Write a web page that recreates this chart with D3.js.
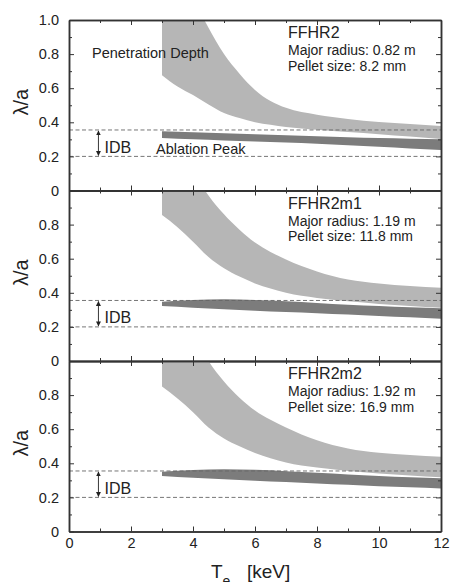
<!DOCTYPE html>
<html>
<head>
<meta charset="utf-8">
<script src="https://cdn.jsdelivr.net/npm/d3@7"></script>
<style>
  body { margin: 0; background: #fff; }
  svg { display: block; }
  text { font-family: "Liberation Sans", Arial, sans-serif; fill: #222; }
</style>
</head>
<body>
<div id="chart"></div>
<script>
  // panel labels
  const panelNames = ["FFHR2", "FFHR2m1", "FFHR2m2"]
  const majorRadius = ["0.82", "1.19", "1.92"]
  const pelletSize = ["8.2", "11.8", "16.9"]

  // penetration depth band (lambda/a), one lower/upper pair per panel
  const penTemps = [3, 3.5, 4, 4.5, 5, 5.5, 6, 6.5, 7, 8, 9, 10, 11, 12]
  const penLower = [
    [0.676, 0.61, 0.56, 0.505, 0.455, 0.425, 0.40, 0.385, 0.372, 0.356, 0.343, 0.33, 0.316, 0.302],
    [0.856, 0.785, 0.70, 0.61, 0.544, 0.495, 0.455, 0.425, 0.40, 0.37, 0.35, 0.335, 0.323, 0.313],
    [0.85, 0.78, 0.70, 0.61, 0.546, 0.50, 0.46, 0.43, 0.405, 0.375, 0.355, 0.34, 0.328, 0.318]
  ]
  const penUpper = [
    [1.45, 1.27, 1.12, 0.955, 0.80, 0.685, 0.59, 0.525, 0.485, 0.445, 0.42, 0.402, 0.39, 0.378],
    [1.6, 1.35, 1.12, 0.97, 0.86, 0.77, 0.695, 0.64, 0.595, 0.525, 0.478, 0.455, 0.44, 0.43],
    [1.65, 1.4, 1.17, 1.0, 0.88, 0.785, 0.71, 0.655, 0.61, 0.535, 0.487, 0.462, 0.448, 0.438]
  ]

  // ablation peak band
  const ablTemps = [3, 4, 5, 6, 7, 8, 9, 10, 11, 12]
  const ablLower = [
    [0.308, 0.300, 0.293, 0.287, 0.281, 0.274, 0.266, 0.257, 0.247, 0.237],
    [0.322, 0.312, 0.303, 0.295, 0.287, 0.280, 0.272, 0.264, 0.256, 0.248],
    [0.326, 0.315, 0.306, 0.298, 0.290, 0.282, 0.274, 0.266, 0.259, 0.252]
  ]
  const ablUpper = [
    [0.347, 0.342, 0.336, 0.330, 0.324, 0.318, 0.313, 0.308, 0.304, 0.300],
    [0.348, 0.358, 0.362, 0.358, 0.350, 0.340, 0.330, 0.322, 0.315, 0.310],
    [0.350, 0.360, 0.365, 0.362, 0.354, 0.344, 0.334, 0.325, 0.318, 0.312]
  ]

  const idbLimits = [0.2, 0.355]
  const idbArrowT = 0.95

  const xMajor = [0, 2, 4, 6, 8, 10, 12]
  const xMinor = [1, 3, 5, 7, 9, 11]
  const yMajor = [0, 0.2, 0.4, 0.6, 0.8, 1.0]
  const yMinor = [0.1, 0.3, 0.5, 0.7, 0.9]

  const width = 450, height = 582
  const plotTop = 20, panelHeight = 170.5
  const axisColor = "#333"

  const svg = d3.select("#chart").append("svg")
    .attr("width", width)
    .attr("height", height)

  const x = d3.scaleLinear().domain([0, 12]).range([69, 441])

  const defs = svg.append("defs")

  const arrowHead = defs.append("marker")
    .attr("id", "arrow")
    .attr("viewBox", "0 0 10 10")
    .attr("refX", 9).attr("refY", 5)
    .attr("markerWidth", 5).attr("markerHeight", 5)
    .attr("markerUnits", "userSpaceOnUse")
    .attr("orient", "auto-start-reverse")
  arrowHead.append("path").attr("d", "M0,0L10,5L0,10Z").attr("fill", "#222")

  panelNames.forEach((name, i) => {
    const top = plotTop + i * panelHeight
    const y = d3.scaleLinear().domain([0, 1]).range([top + panelHeight, top])
    const g = svg.append("g")

    defs.append("clipPath").attr("id", "clip" + i)
      .append("rect")
      .attr("x", x(0)).attr("y", y(1))
      .attr("width", x(12) - x(0)).attr("height", y(0) - y(1))

    const area = d3.area()
      .x(d => x(d[0]))
      .y0(d => y(d[1]))
      .y1(d => y(d[2]))
      .curve(d3.curveMonotoneX)

    const bands = g.append("g").attr("clip-path", `url(#clip${i})`)

    bands.append("path")
      .datum(penTemps.map((t, k) => [t, penLower[i][k], penUpper[i][k]]))
      .attr("fill", "#b6b6b6")
      .attr("d", area)

    bands.append("path")
      .datum(ablTemps.map((t, k) => [t, ablLower[i][k], ablUpper[i][k]]))
      .attr("fill", "#7c7c7c")
      .style("mix-blend-mode", "multiply")
      .attr("d", area)

    // IDB limits
    g.selectAll("line.idb")
      .data(idbLimits)
      .join("line")
      .attr("class", "idb")
      .attr("x1", x(0)).attr("x2", x(12))
      .attr("y1", d => y(d)).attr("y2", d => y(d))
      .attr("stroke", "#666")
      .attr("stroke-width", 0.9)
      .attr("stroke-dasharray", "4,2.5")

    g.append("line")
      .attr("x1", x(idbArrowT)).attr("x2", x(idbArrowT))
      .attr("y1", y(idbLimits[1]) + 1).attr("y2", y(idbLimits[0]) - 1)
      .attr("stroke", "#222")
      .attr("stroke-width", 0.9)
      .attr("marker-start", "url(#arrow)")
      .attr("marker-end", "url(#arrow)")

    g.append("text")
      .attr("x", x(idbArrowT) + 6)
      .attr("y", y(0.22))
      .attr("font-size", 16)
      .text("IDB")

    // axes, ticks pointing inward on all sides
    const fmt = d => d === 0 ? "0" : d.toFixed(1)
    const yTicks = i === 0 ? yMajor : yMajor.slice(0, -1)

    const left = g.append("g").attr("transform", `translate(${x(0)},0)`)
    left.call(d3.axisLeft(y).tickValues(yTicks).tickSize(-5).tickSizeOuter(0).tickPadding(10).tickFormat(fmt))
    left.append("g").call(d3.axisLeft(y).tickValues(yMinor).tickSize(-3).tickSizeOuter(0).tickFormat(""))

    const right = g.append("g").attr("transform", `translate(${x(12)},0)`)
    right.call(d3.axisRight(y).tickValues(yMajor).tickSize(-5).tickSizeOuter(0).tickFormat(""))
    right.append("g").call(d3.axisRight(y).tickValues(yMinor).tickSize(-3).tickSizeOuter(0).tickFormat(""))

    const topAxis = g.append("g").attr("transform", `translate(0,${y(1)})`)
    topAxis.call(d3.axisTop(x).tickValues(xMajor).tickSize(-5).tickSizeOuter(0).tickFormat(""))
    topAxis.append("g").call(d3.axisTop(x).tickValues(xMinor).tickSize(-3).tickSizeOuter(0).tickFormat(""))

    const bottom = g.append("g").attr("transform", `translate(0,${y(0)})`)
    bottom.call(d3.axisBottom(x).tickValues(xMajor).tickSize(-5).tickSizeOuter(0).tickPadding(6)
      .tickFormat(i === panelNames.length - 1 ? d3.format("d") : ""))
    bottom.append("g").call(d3.axisBottom(x).tickValues(xMinor).tickSize(-3).tickSizeOuter(0).tickFormat(""))

    g.selectAll(".domain").attr("stroke", axisColor).attr("stroke-width", 1.5)
    g.selectAll(".tick line").attr("stroke", axisColor).attr("stroke-width", 1)
    g.selectAll(".tick text").attr("font-size", 14.5).attr("fill", "#222")
      .attr("font-family", '"Liberation Sans", Arial, sans-serif')

    // y title
    g.append("text")
      .attr("transform", `translate(28,${(y(0) + y(1)) / 2 - 3}) rotate(-90)`)
      .attr("text-anchor", "middle")
      .attr("font-size", 20)
      .text("λ/a")

    // panel annotation
    const noteX = 288
    g.append("text").attr("x", noteX).attr("y", top + 18).attr("font-size", 16).text(name)
    g.append("text").attr("x", noteX).attr("y", top + 35).attr("font-size", 14)
      .text(`Major radius: ${majorRadius[i]} m`)
    g.append("text").attr("x", noteX).attr("y", top + 50.5).attr("font-size", 14)
      .text(`Pellet size: ${pelletSize[i]} mm`)

    if (i === 0) {
      g.append("text").attr("x", 92).attr("y", top + 38).attr("font-size", 14.5).text("Penetration Depth")
      g.append("text").attr("x", 156).attr("y", top + 134).attr("font-size", 14.5).text("Ablation Peak")
    }
  })

  // x title (subscript runs off the bottom edge, as in the original)
  const xt = svg.append("text").attr("x", 211).attr("y", 578).attr("font-size", 19)
  xt.append("tspan").text("T")
  xt.append("tspan").attr("font-size", 14).attr("dy", 8).text("e")
  xt.append("tspan").attr("x", 247).attr("dy", -8).text("[keV]")
</script>
</body>
</html>
